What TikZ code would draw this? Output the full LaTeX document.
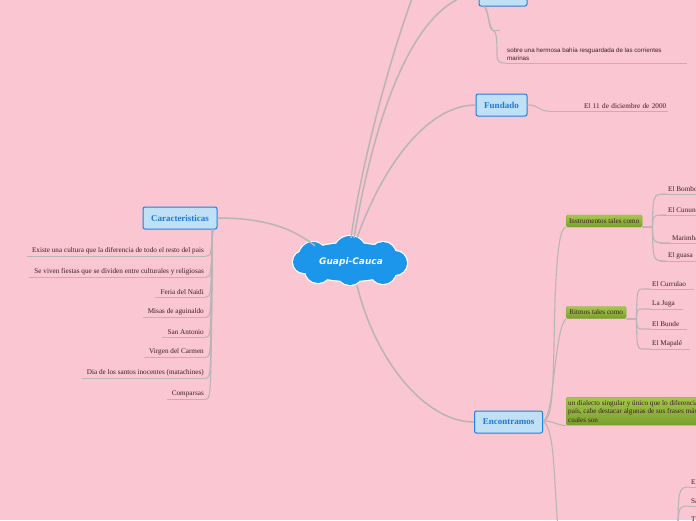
\documentclass[tikz,border=0pt]{standalone}
\usepackage{fontspec}
\setmainfont{Liberation Serif}
\newfontfamily\cloudfont{DejaVu Sans}
\newfontfamily\sansf{Liberation Sans}
\usetikzlibrary{calc}
\definecolor{bg}{RGB}{249,198,209}
\definecolor{linec}{RGB}{186,180,183}
\definecolor{boxf}{RGB}{192,224,245}
\definecolor{boxb}{RGB}{28,128,228}
\definecolor{titc}{RGB}{30,120,215}
\definecolor{cloudc}{RGB}{28,150,235}
\definecolor{grntop}{RGB}{165,200,75}
\definecolor{grnbot}{RGB}{122,158,45}
\definecolor{grnd}{RGB}{130,165,55}
\definecolor{txt}{RGB}{60,30,40}
\tikzset{
  conn/.style={draw=linec, line width=1.1pt},
  mainconn/.style={draw=linec, line width=1.5pt},
  ul/.style={draw=linec, line width=0.8pt},
  topic/.style={draw=boxb, fill=boxf, rounded corners=2pt, line width=1pt,
    font=\bfseries\fontsize{9}{10}\selectfont, text=titc, minimum height=22pt, inner sep=0pt},
  leaf/.style={font=\fontsize{7.2}{8.5}\selectfont, text=txt, inner sep=2pt},
  greenbox/.style={top color=grntop, bottom color=grnbot, draw=grnd, rounded corners=1.5pt,
    font=\fontsize{7.2}{8.3}\selectfont, text=txt, inner sep=2pt, minimum height=12pt}
}
\begin{document}
\begin{tikzpicture}[x=1pt,y=-1pt]
\useasboundingbox (0,0) rectangle (696,520);
\clip (0,0) rectangle (696,520);
\fill[bg] (0,0) rectangle (696,520);

% off-screen targets
\coordinate (offtop) at (416,-12);
\coordinate (offbot) at (558,530);
\coordinate (offbr) at (678,530);

% central cloud (outline first, then fill on top)
\def\cloudpath{%
  (313,256) circle[radius=14pt]
  (350,252) circle[radius=16pt]
  (383,255) circle[radius=13pt]
  (395,263) circle[radius=12pt]
  (383,271) circle[radius=13pt]
  (350,272) circle[radius=13pt]
  (318,270) circle[radius=13pt]
  (304,262) circle[radius=11pt]
  (350,262) ellipse[x radius=52pt, y radius=19pt]}
\draw[white, line width=2.4pt] \cloudpath;
\fill[cloudc] \cloudpath;
\node[inner sep=0pt, minimum width=116pt, minimum height=48pt, text=white,
  font=\cloudfont\bfseries\itshape\fontsize{9}{10}\selectfont] (c) at (351,262) {Guapi-Cauca};

% topics
\node[topic, minimum width=74pt] (car) at (180,218) {Caracteristicas};
\node[topic, minimum width=48pt, minimum height=26pt] (top) at (503,-7) {};
\node[topic, minimum width=51pt] (fund) at (501.5,105) {Fundado};
\node[topic, minimum width=68pt] (enc) at (508.5,422) {Encontramos};

% main connectors
\draw[mainconn] ($(c.north)+(-36,8)$) .. controls (290,226) and (260,218) .. (car.east);
\draw[mainconn] ($(c.north)+(0,0)$) .. controls (362,160) and (392,50) .. (offtop);
\draw[mainconn] ($(c.north)+(3,0)$) .. controls (372,130) and (410,0) .. (top.west);
\draw[mainconn] ($(c.north)+(6,0)$) .. controls (385,160) and (430,105) .. (fund.west);
\draw[mainconn] ($(c.south)+(6,-1)$) .. controls (375,360) and (425,422) .. (enc.west);

% Caracteristicas children
\foreach \i/\y/\t in {
  1/256/{Existe una cultura que la diferencia de todo el resto del pais},
  2/277/{Se viven fiestas que se dividen entre culturales y religiosas},
  3/297/{Feria del Naidi},
  4/317/{Misas de aguinaldo},
  5/337/{San Antonio},
  6/357/{Virgen del Carmen},
  7/378/{Dia de los santos inocentes (matachines)},
  8/399/{Comparsas}} {
  \node[leaf, anchor=south east] (ca\i) at (206,\y) {\t};
  \draw[ul] ($(ca\i.south west)+(-3,0)$) -- (ca\i.south east);
  \draw[conn] ($(car.south east)+(-5,0)$) .. controls (211,\y) and (211,\y) .. (ca\i.south east);
}

% top box children
\node[inner sep=0pt, minimum width=8pt, minimum height=1pt, anchor=south west] (tb1) at (492,30) {};
\draw[ul] (tb1.south west) -- (tb1.south east);
\draw[conn] ($(top.south west)+(5,0)$) .. controls (489,8) and (488,28) .. (tb1.south west);
\node[font=\sansf\fontsize{6.2}{8.5}\selectfont, text=txt, align=left, anchor=south west, inner sep=2pt] (tb2) at (505,63)
  {sobre una hermosa bahía resguardada de las corrientes\\marinas};
\draw[ul] (tb2.south west) -- (687,63);
\draw[conn] ($(top.south west)+(5,0)$) .. controls (489,8) and (488,28) .. (494,31)
  .. controls (497,33) and (497,45) .. (497,55) .. controls (497,62) and (500,63) .. (tb2.south west);

% Fundado child
\node[leaf, anchor=south west, text width=116pt, align=right] (fd) at (548,111) {El 11 de diciembre de 2000};
\draw[ul] (fd.south west) -- (668,111);
\draw[conn] (fund.east) .. controls (540,105) and (538,111) .. (fd.south west);

% Encontramos children
\node[greenbox, anchor=west, minimum width=76pt] (ins) at (566,221) {Instrumentos tales como};
\node[greenbox, anchor=west, minimum width=60pt] (rit) at (566,312.5) {Ritmos tales como};
\node[greenbox, anchor=north west, align=left, minimum height=28pt] (dia) at (566,397)
  {un dialecto singular y único que lo diferencia del resto del\\país, cabe destacar algunas de sus frases más conocidas, las\\cuales son};

\draw[conn] ($(enc.east)+(0,-1)$) .. controls (554,420) and (553,380) .. (555,300) .. controls (557,250) and (560,228) .. (ins.south west);
\draw[conn] ($(enc.east)+(0,-1)$) .. controls (554,420) and (554,330) .. (rit.south west);
\draw[conn] ($(enc.east)+(0,-1)$) .. controls (555,421) and (558,426) .. (dia.south west);
\draw[conn] ($(enc.east)+(0,-1)$) .. controls (554,430) and (553,460) .. (offbot);

% Instrumentos children
\foreach \i/\y/\x/\t in {1/194/666/{El Bombo}, 2/215/666/{El Cununo}, 3/243/670/{Marimba}, 4/261/666/{El guasa}} {
  \node[leaf, anchor=south west] (in\i) at (\x,\y) {\t};
  \draw[ul] (660,\y) -- (700,\y);
  \draw[conn] (ins.south east) -- ++(10,0) .. controls (653,\y) and (653,\y) .. (in\i.south west);
}

% Ritmos children
\foreach \i/\y/\t in {1/289/{El Currulao}, 2/309/{La Juga}, 3/329/{El Bunde}, 4/349/{El Mapalé}} {
  \node[leaf, anchor=south west] (ri\i) at (650,\y) {\t};
  \draw[ul] (ri\i.south west) -- ($(ri\i.south east)+(6,0)$);
  \draw[conn] (rit.south east) -- ++(10,0) .. controls (637,\y) and (637,\y) .. ($(ri\i.south west)+(-6,0)$) -- (ri\i.south west);
}

% bottom right partial children
\node[leaf, anchor=south west] (br1) at (689,487) {El};
\node[leaf, anchor=south west] (br2) at (689,506) {Sa};
\node[leaf, anchor=south west] (br3) at (689,524) {T};
\draw[conn] (offbr) .. controls (678,490) and (679,487) .. (br1.south west);
\draw[conn] (offbr) .. controls (678,508) and (679,506) .. (br2.south west);
\draw[ul] (br1.south west) -- (700,487);
\draw[ul] (br2.south west) -- (700,506);
\end{tikzpicture}
\end{document}
